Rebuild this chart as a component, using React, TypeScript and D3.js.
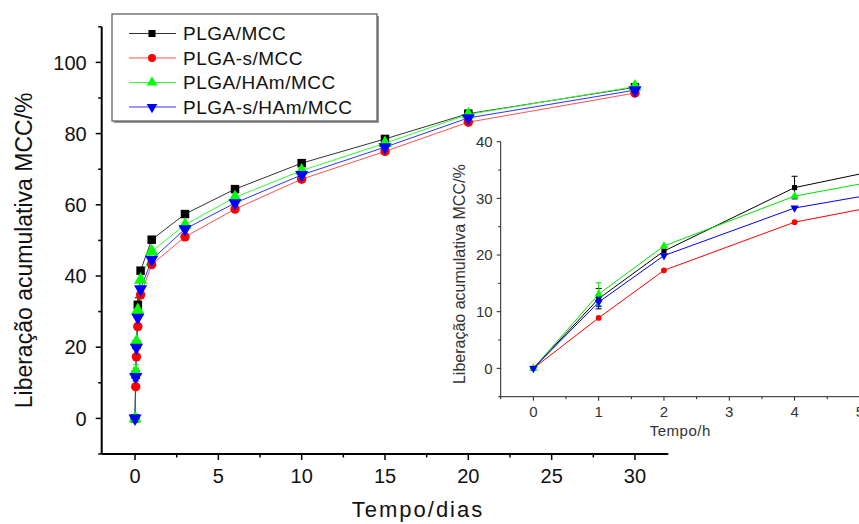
import React from 'react';
import * as d3 from 'd3';

const days = [0, 1 / 24, 2 / 24, 4 / 24, 8 / 24, 1, 3, 6, 10, 15, 20, 30];
const hours = [0, 1, 2, 4, 8];
const seriesNames = ['PLGA/MCC', 'PLGA-s/MCC', 'PLGA/HAm/MCC', 'PLGA-s/HAm/MCC'];
const plgaMcc = [0, 12.3, 20.7, 31.9, 41.5, 50.2, 57.4, 64.4, 71.7, 78.5, 85.6, 93.0];
const plgaSMcc = [0, 8.9, 17.3, 25.8, 34.7, 43.2, 51.0, 58.8, 67.2, 75.0, 83.2, 91.4];
const plgaHamMcc = [0, 13.1, 21.6, 30.4, 38.9, 46.9, 54.4, 62.1, 69.6, 77.3, 85.4, 93.2];
const plgaSHamMcc = [0, 11.7, 19.9, 28.3, 36.3, 44.6, 53.2, 60.5, 68.4, 76.2, 84.4, 92.2];
const errPlgaMcc = [0, 1.8, 0.6, 2.0, 0.6, 0.5, 0.5, 0.5, 0.5, 0.5, 0.5, 0.5];
const errPlgaSMcc = [0, 0.3, 0.3, 0.4, 0.4, 0.4, 0.4, 0.4, 0.4, 0.4, 0.4, 0.4];
const errPlgaHamMcc = [0, 2.0, 0.5, 0.5, 0.5, 0.5, 0.5, 0.5, 0.5, 0.5, 0.5, 0.5];
const errPlgaSHamMcc = [0, 0.8, 0.4, 0.4, 0.4, 0.4, 0.4, 0.4, 0.4, 0.4, 0.4, 0.4];
const xTicksMain = [0, 5, 10, 15, 20, 25, 30];
const yTicksMain = [0, 20, 40, 60, 80, 100];
const xTicksInset = [0, 1, 2, 3, 4, 5];
const yTicksInset = [0, 10, 20, 30, 40];

const colors = ['#000000', '#ff0000', '#00ff00', '#0000ff'];
const lineColors = ['#333333', '#ff5050', '#30ff30', '#3030ff'];
const insetLineColors = ['#000000', '#ff0000', '#00e000', '#0000ff'];
const values = [plgaMcc, plgaSMcc, plgaHamMcc, plgaSHamMcc];
const errors = [errPlgaMcc, errPlgaSMcc, errPlgaHamMcc, errPlgaSHamMcc];
const symbolTypes = [d3.symbolSquare, d3.symbolCircle, d3.symbolTriangle, d3.symbolTriangle];
const rotations = [0, 0, 0, 180];

const FONT = 'Liberation Sans, Arial, sans-serif';

function marker(i: number, size: number) {
  return d3.symbol().type(symbolTypes[i]).size(size)() as string;
}

export default function App() {
  // main scales
  const x = d3.scaleLinear().domain([-2, 32]).range([101.7, 668.3]);
  const y = d3.scaleLinear().domain([-10, 110]).range([454, 26.8]);
  // inset scales
  const xi = d3.scaleLinear().domain([-0.5, 5]).range([500.7, 859.9]);
  const yi = d3.scaleLinear().domain([-5, 40]).range([396.7, 141.7]);

  const mainSizes = [72, 70, 75, 75];
  const insetSizes = [26, 26, 30, 30];

  const xMinorMain = d3.range(-2.5, 32.01, 2.5).filter((v) => v >= -2 && v % 5 !== 0);
  const yMinorMain = d3.range(-10, 110.01, 10).filter((v) => v % 20 !== 0);
  const xMinorInset = d3.range(-0.5, 5.01, 0.5).filter((v) => v % 1 !== 0);
  const yMinorInset = d3.range(-5, 40.01, 5).filter((v) => v % 10 !== 0);

  return (
    <svg width={859} height={524} style={{ position: 'absolute', left: 0, top: 0, background: '#fff' }} fontFamily={FONT}>
      <rect x={0} y={0} width={859} height={524} fill="#fff" />
      {/* main axes */}
      <g>
        <line x1={x(-2)} x2={x(32)} y1={y(-10)} y2={y(-10)} stroke="#000" strokeWidth={2} />
        <line x1={x(-2)} x2={x(-2)} y1={y(-10)} y2={y(110)} stroke="#000" strokeWidth={2} />
        {xTicksMain.map((t) => (
          <g key={'xt' + t}>
            <line x1={x(t)} x2={x(t)} y1={y(-10)} y2={y(-10) + 6} stroke="#000" strokeWidth={1.5} />
            <text x={x(t)} y={y(-10) + 29} textAnchor="middle" fontSize={20} fill="#111">{t}</text>
          </g>
        ))}
        {xMinorMain.map((t) => (
          <line key={'xm' + t} x1={x(t)} x2={x(t)} y1={y(-10)} y2={y(-10) + 3.5} stroke="#000" strokeWidth={1.5} />
        ))}
        {yTicksMain.map((t) => (
          <g key={'yt' + t}>
            <line x1={x(-2) - 6} x2={x(-2)} y1={y(t)} y2={y(t)} stroke="#000" strokeWidth={1.5} />
            <text x={x(-2) - 15} y={y(t)} dy="0.36em" textAnchor="end" fontSize={20} fill="#111">{t}</text>
          </g>
        ))}
        {yMinorMain.map((t) => (
          <line key={'ym' + t} x1={x(-2) - 3.5} x2={x(-2)} y1={y(t)} y2={y(t)} stroke="#000" strokeWidth={1.5} />
        ))}
        <text x={418} y={517} textAnchor="middle" fontSize={22} letterSpacing={2} fill="#111">Tempo/dias</text>
        <text transform={`translate(32,${(y(-10) + y(110)) / 2 + 10}) rotate(-90)`} textAnchor="middle" fontSize={23} fill="#111">
          Liberação acumulativa MCC/%
        </text>
      </g>
      {/* main series */}
      {values.map((vals, i) => {
        const line = d3.line<number>().x((_, k) => x(days[k])).y((d) => y(d));
        return (
          <path key={'ml' + i} d={line(vals) as string} fill="none" stroke={lineColors[i]} strokeWidth={1} />
        );
      })}
      {values.map((vals, i) => (
        <g key={'mm' + i}>
          {vals.map((v, k) => (
            <g key={k}>
              {errors[i][k] > 0.7 && (
                <g stroke={colors[i]} strokeWidth={1}>
                  <line x1={x(days[k])} x2={x(days[k])} y1={y(v - errors[i][k])} y2={y(v + errors[i][k])} />
                  <line x1={x(days[k]) - 3} x2={x(days[k]) + 3} y1={y(v + errors[i][k])} y2={y(v + errors[i][k])} />
                  <line x1={x(days[k]) - 3} x2={x(days[k]) + 3} y1={y(v - errors[i][k])} y2={y(v - errors[i][k])} />
                </g>
              )}
              <path
                d={marker(i, mainSizes[i])}
                transform={`translate(${x(days[k])},${y(v)}) rotate(${rotations[i]})`}
                fill={colors[i]}
              />
            </g>
          ))}
        </g>
      ))}
      {/* legend */}
      <g>
        <rect x={114} y={16} width={265} height={107} fill="#999" />
        <rect x={112} y={14} width={265} height={107} fill="#fff" stroke="#555" strokeWidth={1.2} />
        {seriesNames.map((name, i) => {
          const ly = 33.5 + i * 24.5;
          return (
            <g key={'lg' + i}>
              <line x1={129} x2={176} y1={ly} y2={ly} stroke={lineColors[i]} strokeWidth={1} />
              <path d={marker(i, 50)} transform={`translate(152,${ly}) rotate(${rotations[i]})`} fill={colors[i]} />
              <text x={183} y={ly} dy="0.36em" fontSize={19} letterSpacing={0.5} fill="#111">{name}</text>
            </g>
          );
        })}
      </g>
      {/* inset */}
      <g>
        <line x1={xi(-0.5)} x2={xi(5)} y1={yi(-5)} y2={yi(-5)} stroke="#222" strokeWidth={1} />
        <line x1={xi(-0.5)} x2={xi(-0.5)} y1={yi(-5)} y2={yi(40)} stroke="#222" strokeWidth={1} />
        {xTicksInset.map((t) => (
          <g key={'ixt' + t}>
            <line x1={xi(t)} x2={xi(t)} y1={yi(-5)} y2={yi(-5) + 4} stroke="#222" strokeWidth={1} />
            <text x={xi(t)} y={yi(-5) + 10} dy="0.71em" textAnchor="middle" fontSize={15} fill="#333">{t}</text>
          </g>
        ))}
        {xMinorInset.map((t) => (
          <line key={'ixm' + t} x1={xi(t)} x2={xi(t)} y1={yi(-5)} y2={yi(-5) + 2.5} stroke="#222" strokeWidth={1} />
        ))}
        {yTicksInset.map((t) => (
          <g key={'iyt' + t}>
            <line x1={xi(-0.5) - 4} x2={xi(-0.5)} y1={yi(t)} y2={yi(t)} stroke="#222" strokeWidth={1} />
            <text x={xi(-0.5) - 8} y={yi(t)} dy="0.36em" textAnchor="end" fontSize={15} fill="#333">{t}</text>
          </g>
        ))}
        {yMinorInset.map((t) => (
          <line key={'iym' + t} x1={xi(-0.5) - 2.5} x2={xi(-0.5)} y1={yi(t)} y2={yi(t)} stroke="#222" strokeWidth={1} />
        ))}
        <text x={(xi(-0.5) + xi(5)) / 2} y={436} textAnchor="middle" fontSize={15} letterSpacing={0.5} fill="#333">Tempo/h</text>
        <text transform={`translate(465,${(yi(-5) + yi(40)) / 2 + 5}) rotate(-90)`} textAnchor="middle" fontSize={16} fill="#333">
          Liberação acumulativa MCC/%
        </text>
        {values.map((vals, i) => {
          const sub = vals.slice(0, hours.length);
          const line = d3.line<number>().x((_, k) => xi(hours[k])).y((d) => yi(d));
          return <path key={'il' + i} d={line(sub) as string} fill="none" stroke={insetLineColors[i]} strokeWidth={1} />;
        })}
        {values.map((vals, i) => (
          <g key={'im' + i}>
            {vals.slice(0, hours.length).map((v, k) => (
              <g key={k}>
                {errors[i][k] > 0.7 && (
                  <g stroke={insetLineColors[i]} strokeWidth={1}>
                    <line x1={xi(hours[k])} x2={xi(hours[k])} y1={yi(v - errors[i][k])} y2={yi(v + errors[i][k])} />
                    <line x1={xi(hours[k]) - 3} x2={xi(hours[k]) + 3} y1={yi(v + errors[i][k])} y2={yi(v + errors[i][k])} />
                    <line x1={xi(hours[k]) - 3} x2={xi(hours[k]) + 3} y1={yi(v - errors[i][k])} y2={yi(v - errors[i][k])} />
                  </g>
                )}
                <path
                  d={marker(i, insetSizes[i])}
                  transform={`translate(${xi(hours[k])},${yi(v)}) rotate(${rotations[i]})`}
                  fill={colors[i]}
                />
              </g>
            ))}
          </g>
        ))}
      </g>
    </svg>
  );
}
